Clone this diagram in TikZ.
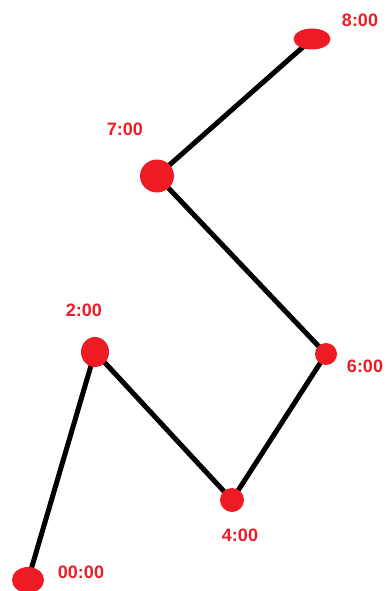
\documentclass[tikz,border=0pt]{standalone}
\usepackage{fontspec}
\setmainfont{Liberation Sans}
\usetikzlibrary{shapes.geometric,backgrounds}
\definecolor{PaintRed}{HTML}{ED1C24}

\begin{document}
\begin{tikzpicture}[x=1pt, y=-1pt,
    dot/.style={ellipse, fill=PaintRed, inner sep=0pt},
    hour/.style={font=\bfseries\fontsize{18}{18}\selectfont, text=PaintRed, inner sep=0pt}]
    \useasboundingbox (0,0) rectangle (386,591);

    % Time points
    \node[dot, minimum width=32pt, minimum height=26pt] (t0) at (28,580) {};
    \node[dot, minimum width=28pt, minimum height=30pt] (t2) at (95,352) {};
    \node[dot, minimum width=24pt, minimum height=24pt] (t4) at (232,500) {};
    \node[dot, minimum width=22pt, minimum height=22pt] (t6) at (326,354) {};
    \node[dot, minimum width=34pt, minimum height=33pt] (t7) at (157,176) {};
    \node[dot, minimum width=37pt, minimum height=21pt] (t8) at (312,39) {};

    % Labels
    \node[hour] (l0) at (81,572) {00:00};
    \node[hour] (l2) at (84,310) {2:00};
    \node[hour] (l4) at (240,535) {4:00};
    \node[hour] (l6) at (365,366) {6:00};
    \node[hour] (l7) at (125,129) {7:00};
    \node[hour] (l8) at (360,20) {8:00};

    % Path through the day
    \begin{pgfonlayer}{background}
    \draw[line width=5pt, line join=round]
        (t0.center) -- (t2.center) -- (t4.center) -- (t6.center) -- (t7.center) -- (t8.center);
    \end{pgfonlayer}
\end{tikzpicture}
\end{document}
